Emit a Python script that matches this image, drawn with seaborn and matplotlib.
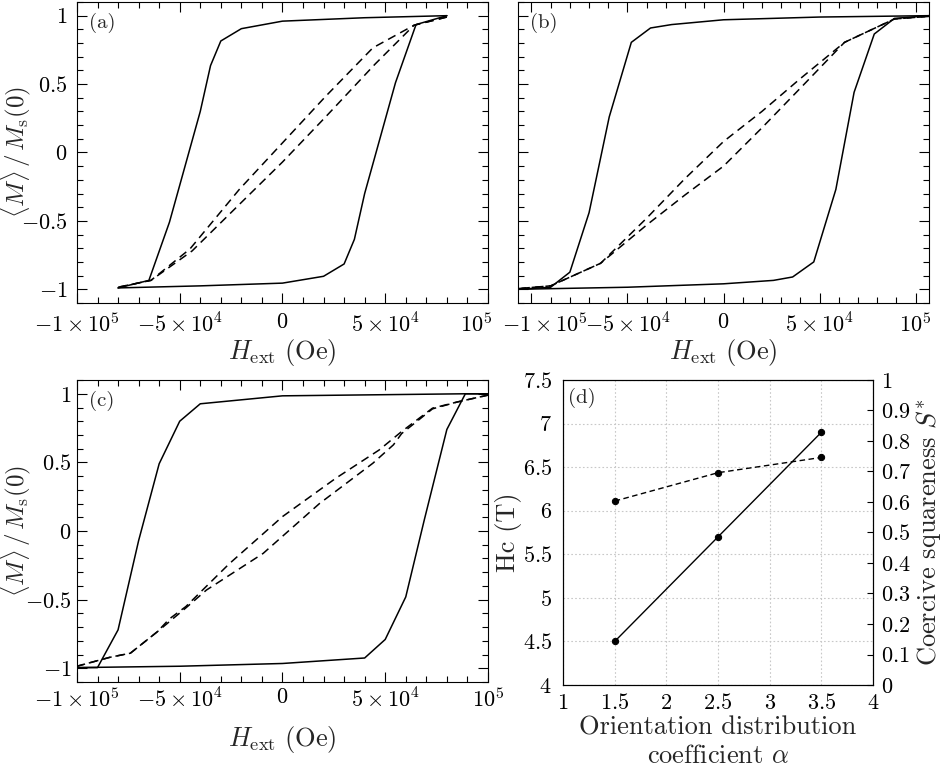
import matplotlib
matplotlib.use("Agg")
import matplotlib.pyplot as plt
from matplotlib.ticker import FixedLocator, MultipleLocator, FuncFormatter
from matplotlib.transforms import ScaledTranslation
import seaborn as sns

# hysteresis loops, H in Oe, M normalised
# (a)
a_desc_h = [80000, 40000, 0, -20000, -30000, -35000, -40000, -45000, -55000, -65000, -80000]
a_desc_m = [1.0, 0.985, 0.96, 0.905, 0.815, 0.635, 0.30, 0.03, -0.51, -0.935, -0.99]
a_asc_h = [-80000, -40000, 0, 20000, 30000, 35000, 40000, 45000, 55000, 65000, 80000]
a_asc_m = [-0.99, -0.975, -0.955, -0.905, -0.815, -0.635, -0.30, -0.03, 0.51, 0.935, 1.0]
a_minor_desc_h = [80000, 64000, 44000, 21000, 0, -21000, -45000, -64000, -80000]
a_minor_desc_m = [0.99, 0.93, 0.765, 0.41, 0.07, -0.27, -0.705, -0.935, -0.985]
a_minor_asc_h = [-80000, -64000, -44000, -21000, 0, 21000, 45000, 64000, 80000]
a_minor_asc_m = [-0.985, -0.935, -0.72, -0.38, -0.07, 0.26, 0.645, 0.93, 0.99]

# (b)
b_desc_h = [107000, 50000, 0, -27000, -38000, -48000, -59500, -70000, -80000, -90000, -107000]
b_desc_m = [1.0, 0.99, 0.97, 0.935, 0.91, 0.805, 0.26, -0.44, -0.875, -0.985, -1.0]
b_asc_h = [-107000, -50000, 0, 26000, 36000, 47000, 58500, 68000, 78500, 89000, 107000]
b_asc_m = [-1.0, -0.985, -0.96, -0.935, -0.91, -0.80, -0.27, 0.44, 0.866, 0.98, 1.0]
b_minor_desc_h = [107000, 89000, 63000, 40000, 20000, 0, -20000, -40000, -64000, -90000, -107000]
b_minor_desc_m = [0.995, 0.976, 0.805, 0.54, 0.30, 0.08, -0.19, -0.48, -0.81, -0.975, -0.995]
b_minor_asc_h = [-107000, -90000, -64000, -40000, -20000, 0, 20000, 40000, 63000, 89000, 107000]
b_minor_asc_m = [-0.995, -0.975, -0.81, -0.53, -0.31, -0.10, 0.18, 0.47, 0.805, 0.976, 0.995]

# (c)
c_desc_h = [100000, 89000, 0, -40000, -50000, -60000, -70000, -80000, -90000, -100000]
c_desc_m = [1.0, 1.0, 0.985, 0.927, 0.80, 0.49, -0.07, -0.72, -0.995, -0.995]
c_asc_h = [-100000, -50000, 0, 40000, 50000, 60000, 69000, 80000, 89000, 100000]
c_asc_m = [-0.995, -0.985, -0.965, -0.925, -0.79, -0.48, 0.08, 0.74, 1.0, 1.0]
c_minor_desc_h = [100000, 85000, 73000, 58000, 47000, 26000, 0, -26000, -47000, -55000,
                  -61000, -74000, -84000, -100000]
c_minor_desc_m = [0.99, 0.94, 0.895, 0.725, 0.59, 0.385, 0.105, -0.24, -0.55, -0.64,
                  -0.735, -0.89, -0.92, -0.985]
c_minor_asc_h = [-100000, -84000, -74000, -61000, -47000, -37000, -9400, 18000, 44000,
                 54000, 58000, 73000, 85000, 100000]
c_minor_asc_m = [-0.985, -0.92, -0.89, -0.735, -0.56, -0.43, -0.163, 0.20, 0.494,
                 0.628, 0.71, 0.89, 0.94, 0.99]

# (d)
alpha = [1.5, 2.5, 3.5]
hc = [4.5, 5.7, 6.9]
squareness = [0.603, 0.696, 0.746]

h_ticks = [-100000, -50000, 0, 50000, 100000]
h_tick_labels = [r"$-1\times10^{5}$", r"$-5\times10^{4}$", r"$0$", r"$5\times10^{4}$", r"$10^{5}$"]
m_ticks = [-1, -0.5, 0, 0.5, 1]
m_tick_labels = [r"$-1$", r"$-0.5$", r"$0$", r"$0.5$", r"$1$"]

sns.set_style("ticks")
plt.rcParams.update({
    "font.family": "serif",
    "font.serif": ["cmr10", "DejaVu Serif"],
    "mathtext.fontset": "cm",
    "axes.formatter.use_mathtext": True,
    "axes.unicode_minus": False,
    "axes.linewidth": 0.8,
    "axes.edgecolor": "black",
    "xtick.direction": "in",
    "ytick.direction": "in",
    "xtick.color": "black",
    "ytick.color": "black",
})

fig = plt.figure(figsize=(9.42, 7.67), dpi=100)

ax_a = fig.add_axes([0.0817, 0.6050, 0.4363, 0.3924])
ax_b = fig.add_axes([0.5499, 0.6050, 0.4363, 0.3924])
ax_c = fig.add_axes([0.0817, 0.1108, 0.4363, 0.3937])
ax_d = fig.add_axes([0.5977, 0.1069, 0.3291, 0.3977])

dash = (0, (5.5, 3.5))


def loop_panel(ax, curves, xlim, tag, show_ylabel=True, xpad=4):
    for h, m, ls in curves:
        sns.lineplot(x=h, y=m, sort=False, estimator=None, color="black",
                     linewidth=1.1, linestyle=ls, ax=ax)
    ax.set_xlim(*xlim)
    ax.set_ylim(-1.1, 1.1)
    ax.xaxis.set_major_locator(FixedLocator(h_ticks))
    ax.set_xticklabels(h_tick_labels)
    ax.xaxis.set_minor_locator(MultipleLocator(10000))
    ax.yaxis.set_minor_locator(MultipleLocator(0.1))
    ax.yaxis.set_major_locator(FixedLocator(m_ticks))
    if show_ylabel:
        ax.set_yticklabels(m_tick_labels)
        ax.set_ylabel(r"$\langle M\rangle\,/\,M_{\rm s}(0)$", fontsize=18)
        ax.yaxis.set_label_coords(-0.108, 0.5)
    else:
        ax.set_yticklabels([])
    ax.tick_params(which="both", top=True, right=True, direction="in", labelsize=16, width=0.8)
    ax.tick_params(which="major", length=7, pad=xpad)
    ax.tick_params(which="minor", length=4)
    ax.set_xlabel(r"$H_{\rm ext}\ \mathrm{(Oe)}$", fontsize=19, labelpad=0)
    ax.text(0.03, 0.965, tag, transform=ax.transAxes, ha="left", va="top", fontsize=15)


loop_panel(ax_a, [(a_desc_h, a_desc_m, "-"), (a_asc_h, a_asc_m, "-"),
                  (a_minor_desc_h, a_minor_desc_m, dash), (a_minor_asc_h, a_minor_asc_m, dash)],
           (-100000, 100000), "(a)", xpad=7)
loop_panel(ax_b, [(b_desc_h, b_desc_m, "-"), (b_asc_h, b_asc_m, "-"),
                  (b_minor_desc_h, b_minor_desc_m, dash), (b_minor_asc_h, b_minor_asc_m, dash)],
           (-107000, 107000), "(b)", show_ylabel=False, xpad=7)
loop_panel(ax_c, [(c_desc_h, c_desc_m, "-"), (c_asc_h, c_asc_m, "-"),
                  (c_minor_desc_h, c_minor_desc_m, dash), (c_minor_asc_h, c_minor_asc_m, dash)],
           (-100000, 100000), "(c)", xpad=4)
ax_c.xaxis.labelpad = 9

# keep the end labels of (a) and (b) apart
lab = ax_a.xaxis.get_major_ticks()[-1].label1
lab.set_transform(lab.get_transform() + ScaledTranslation(-12 / 100, 0, fig.dpi_scale_trans))
lab = ax_b.xaxis.get_major_ticks()[0].label1
lab.set_transform(lab.get_transform() + ScaledTranslation(13 / 100, 0, fig.dpi_scale_trans))

# (d) coercivity and squareness vs alpha
sns.lineplot(x=alpha, y=hc, color="black", linewidth=1.0, marker="o", markersize=4.5,
             markeredgecolor="black", ax=ax_d, zorder=3)
ax_d.set_xlim(1, 4)
ax_d.set_ylim(4, 7.5)
ax_d.xaxis.set_major_locator(MultipleLocator(0.5))
ax_d.yaxis.set_major_locator(MultipleLocator(0.5))
ax_d.xaxis.set_major_formatter(FuncFormatter(lambda v, p: r"$%g$" % v))
ax_d.yaxis.set_major_formatter(FuncFormatter(lambda v, p: r"$%g$" % v))
ax_d.grid(True, linestyle=(0, (1.5, 2)), color="#c8c8c8", linewidth=0.8)
ax_d.tick_params(labelsize=16, length=0)
ax_d.tick_params(axis="y", pad=8)
ax_d.tick_params(axis="x", pad=6)
ax_d.set_ylabel("Hc (T)", fontsize=19)
ax_d.yaxis.set_label_coords(-0.132, 0.5)
ax_d.set_xlabel("Orientation distribution\n" + r"coefficient $\alpha$", fontsize=19,
                labelpad=2, linespacing=1.25)
ax_d.text(0.016, 0.975, "(d)", transform=ax_d.transAxes, ha="left", va="top", fontsize=15)

ax_d2 = ax_d.twinx()
sns.lineplot(x=alpha, y=squareness, color="black", linewidth=1.0, linestyle=(0, (4, 2.5)),
             marker="o", markersize=4.5, markeredgecolor="black", ax=ax_d2)
ax_d2.set_ylim(0, 1)
ax_d2.yaxis.set_major_locator(MultipleLocator(0.1))
ax_d2.yaxis.set_major_formatter(FuncFormatter(lambda v, p: r"$%g$" % round(v, 1)))
ax_d2.tick_params(labelsize=16, direction="in", length=4, width=0.8, pad=6)
ax_d2.set_ylabel(r"Coercive squareness $S^{*}$", fontsize=19, labelpad=2)
for sp in ax_d2.spines.values():
    sp.set_linewidth(0.8)

fig.savefig("out.png", dpi=100)
